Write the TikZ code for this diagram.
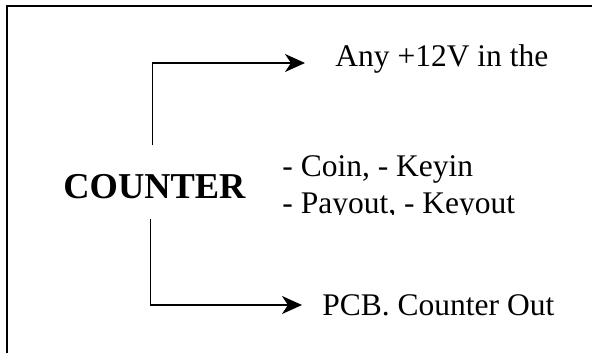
\documentclass[tikz,border=0pt]{standalone}
\usepackage{fontspec}
\setmainfont{Liberation Serif}
\usetikzlibrary{arrows.meta}
\usetikzlibrary{positioning}

\begin{document}
\begin{tikzpicture}[x=0.5pt,y=-0.5pt,>={Stealth[length=10pt,width=9pt,inset=3pt]},
    text node/.style={inner sep=0pt,anchor=base west,font=\fontsize{15.75}{18}\selectfont},
    title node/.style={inner sep=0pt,anchor=base west,font=\fontsize{18.2}{21}\selectfont\bfseries},
    link/.style={->,line width=0.85pt}]
   \clip (0,0) rectangle (592,352);
   % outer frame, only left and top edge inside the picture
   \draw[line width=1pt] (7,6) rectangle (620,380);
   \node[title node] (counter) at (63,198) {COUNTER};
   \node[text node] (anyv) at (335,67) {Any +12V in the};
   \begin{scope}
     \clip (0,0) rectangle (592,214);
     % base anchor sits on the last line
     \node[text node,align=left] (signals) at (282,213) {- Coin, - Keyin\\- Payout, - Keyout};
   \end{scope}
   \node[text node] (pcbout) at (322,315) {PCB. Counter Out};
   \coordinate (upend) at (305,63);
   \coordinate (downend) at (302,305);
   \draw[link] ([xshift=-1pt,yshift=14pt]counter.north) |- (upend);
   \draw[link] ([xshift=-2pt,yshift=-10pt]counter.south) |- (downend);
\end{tikzpicture}
\end{document}
